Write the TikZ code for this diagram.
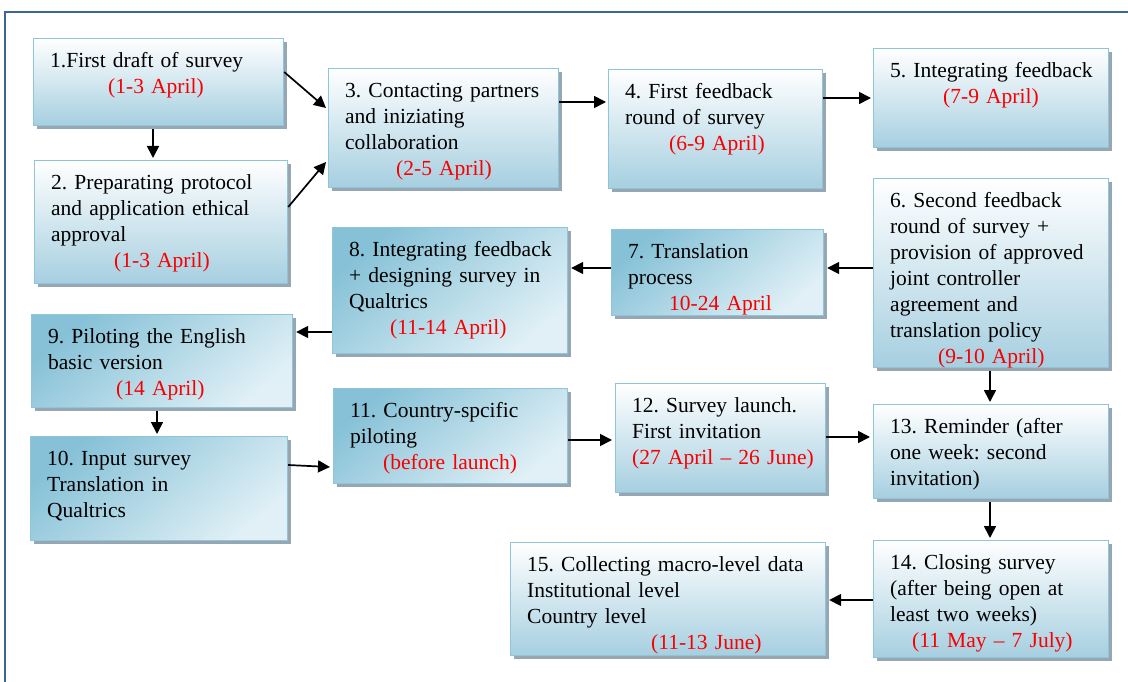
\documentclass[tikz,border=0pt]{standalone}
\usepackage{fontspec}
\setmainfont{Liberation Serif}
\usetikzlibrary{arrows.meta,shadows,calc}
\definecolor{frameblue}{HTML}{3C6695}
\definecolor{boxedge}{HTML}{8EC5D9}
\definecolor{boxlow}{HTML}{A6CFE0}
\definecolor{boxdark}{HTML}{86C1D7}
\definecolor{boxlight}{HTML}{E0F0F6}
\definecolor{shadowc}{HTML}{8497A4}
\definecolor{datered}{HTML}{F80000}
\newcommand\dd[1]{\textcolor{datered}{#1}}
\frenchspacing
\begin{document}
\begin{tikzpicture}[x=1pt,y=-1pt,
  boxbase/.style={draw=boxedge, line width=1.2pt, inner sep=0pt, anchor=north west,
    drop shadow={shadow xshift=3pt, shadow yshift=-3pt, fill=shadowc, opacity=0.85}},
  vbox/.style={boxbase, top color=white, bottom color=boxlow},
  dbox/.style={boxbase, top color=boxdark, bottom color=boxlight, shading angle=40},
  txt/.style={anchor=north west, inner sep=0pt, xshift=17pt, yshift=-10.8pt,
    text width=#1, align=left, font=\fontsize{21.5}{26}\selectfont\frenchspacing},
  arr/.style={line width=1.7pt, -{Triangle[length=12pt,width=12pt]}},
  frame/.style={draw=frameblue, line width=2pt}]
\useasboundingbox (0,0) rectangle (1128,682);
\draw[frame] (5,700) -- (5,12) -- (1140,12);

% boxes
\node[vbox, minimum width=250pt, minimum height=87pt]  (b1)  at (33,38)   {};
\node[vbox, minimum width=253pt, minimum height=123pt] (b2)  at (34,160)  {};
\node[vbox, minimum width=230pt, minimum height=119pt] (b3)  at (328,68)  {};
\node[vbox, minimum width=214pt, minimum height=119pt] (b4)  at (608,69)  {};
\node[vbox, minimum width=235pt, minimum height=99pt]  (b5)  at (873,48)  {};
\node[vbox, minimum width=235pt, minimum height=189pt] (b6)  at (873,178) {};
\node[dbox, minimum width=212pt, minimum height=86pt]  (b7)  at (611,229) {};
\node[dbox, minimum width=235pt, minimum height=126pt] (b8)  at (332,227) {};
\node[dbox, minimum width=261pt, minimum height=93pt]  (b9)  at (31,314)  {};
\node[dbox, minimum width=257pt, minimum height=104pt] (b10) at (30,436)  {};
\node[dbox, minimum width=234pt, minimum height=95pt]  (b11) at (333,388) {};
\node[vbox, minimum width=210pt, minimum height=109pt] (b12) at (615,383) {};
\node[vbox, minimum width=235pt, minimum height=94pt]  (b13) at (873,404) {};
\node[vbox, minimum width=235pt, minimum height=117pt] (b14) at (873,540) {};
\node[vbox, minimum width=315pt, minimum height=113pt] (b15) at (510,542) {};

% texts
\node[txt=230pt] (t1) at (b1.north west) {\strut 1.First draft of survey\\\hspace*{58pt}\dd{(1-3 April)}};
\node[txt=233pt] (t2) at (b2.north west) {\strut 2. Preparating protocol\\and application ethical\\approval\\\hspace*{63pt}\dd{(1-3 April)}};
\node[txt=210pt] (t3) at (b3.north west) {\strut 3. Contacting partners\\and iniziating\\collaboration\\\hspace*{51pt}\dd{(2-5 April)}};
\node[txt=194pt] (t4) at (b4.north west) {\strut 4. First feedback\\round of survey\\\hspace*{44pt}\dd{(6-9 April)}};
\node[txt=215pt] (t5) at (b5.north west) {\strut 5. Integrating feedback\\\hspace*{53pt}\dd{(7-9 April)}};
\node[txt=215pt] (t6) at (b6.north west) {\strut 6. Second feedback\\round of survey +\\provision of approved\\joint controller\\agreement and\\translation policy\\\hspace*{48pt}\dd{(9-10 April)}};
\node[txt=192pt] (t7) at (b7.north west) {\strut 7. Translation\\process\\\hspace*{41pt}\dd{10-24 April}};
\node[txt=215pt] (t8) at (b8.north west) {\strut 8. Integrating feedback\\+ designing survey in\\Qualtrics\\\hspace*{41pt}\dd{(11-14 April)}};
\node[txt=241pt] (t9) at (b9.north west) {\strut 9. Piloting the English\\basic version\\\hspace*{68pt}\dd{(14 April)}};
\node[txt=237pt] (t10) at (b10.north west) {\strut 10. Input survey\\Translation in\\Qualtrics};
\node[txt=214pt] (t11) at (b11.north west) {\strut 11. Country-spcific\\piloting\\\hspace*{33pt}\dd{(before launch)}};
\node[txt=190pt] (t12) at (b12.north west) {\strut 12. Survey launch.\\First invitation\\\dd{(27 April – 26 June)}};
\node[txt=215pt] (t13) at (b13.north west) {\strut 13. Reminder (after\\one week: second\\invitation)};
\node[txt=215pt] (t14) at (b14.north west) {\strut 14. Closing survey\\(after being open at\\least two weeks)\\\hspace*{22pt}\dd{(11 May – 7 July)}};
\node[txt=295pt] (t15) at (b15.north west) {\strut 15. Collecting macro-level data\\Institutional level\\Country level\\\hspace*{124pt}\dd{(11-13 June)}};

% arrows
\draw[arr] ($(b1.north east)+(0,34)$) -- ($(b3.north west)+(-2,40)$);
\draw[arr] ($(b2.north east)+(0,47)$) -- ($(b3.north west)+(-2,94)$);
\draw[arr] ($(b1.south west)+(120,3)$) -- ($(b2.north west)+(119,-2)$);
\draw[arr] ($(b3.north east)+(0,34)$) -- ($(b4.north west)+(-2,33)$);
\draw[arr] ($(b4.north east)+(0,29)$) -- ($(b5.north west)+(-2,50)$);
\draw[arr] ($(b6.north west)+(0,90)$) -- ($(b7.north east)+(3,39)$);
\draw[arr] ($(b7.north west)+(0,39)$) -- ($(b8.north east)+(3,41)$);
\draw[arr] ($(b8.north west)+(0,105)$) -- ($(b9.north east)+(3,18)$);
\draw[arr] ($(b9.south west)+(126,3)$) -- ($(b10.north west)+(127,-2)$);
\draw[arr] ($(b10.north east)+(0,29)$) -- ($(b11.north west)+(-3,79)$);
\draw[arr] ($(b11.north east)+(0,52)$) -- ($(b12.north west)+(-3,57)$);
\draw[arr] ($(b12.north east)+(0,54)$) -- ($(b13.north west)+(-3,33)$);
\draw[arr] ($(b6.south west)+(117,3)$) -- ($(b13.north west)+(117,-2)$);
\draw[arr] ($(b13.south west)+(117,3)$) -- ($(b14.north west)+(117,-2)$);
\draw[arr] ($(b14.north west)+(0,60)$) -- ($(b15.north east)+(3,58)$);
\end{tikzpicture}
\end{document}
